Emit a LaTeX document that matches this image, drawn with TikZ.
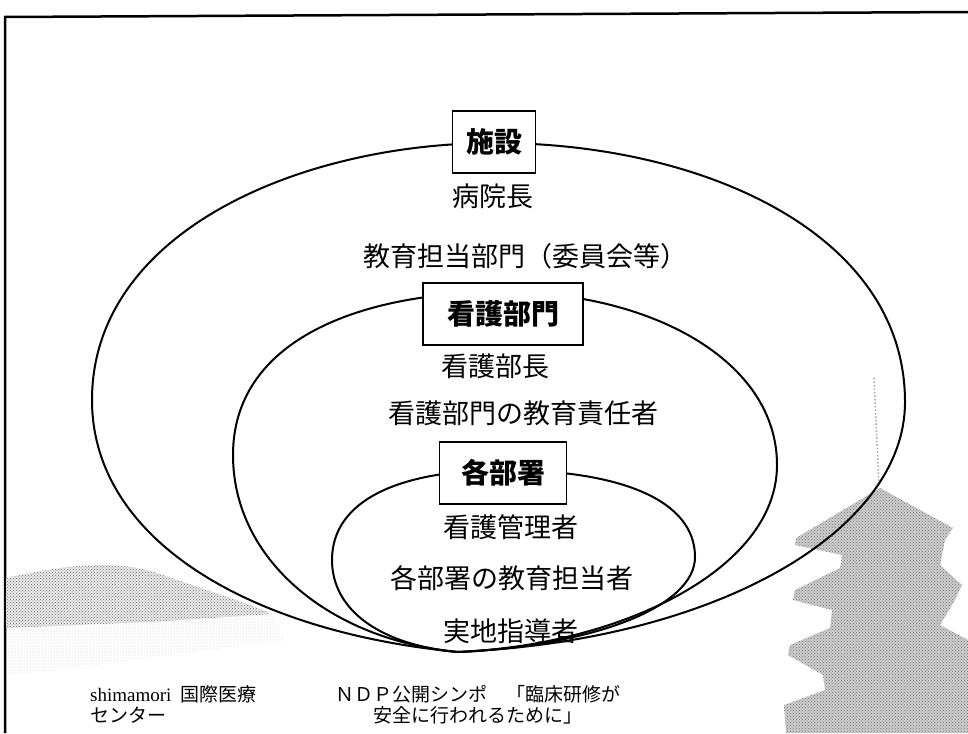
\documentclass[tikz,border=0pt]{standalone}
\usepackage{fontspec}
\setmainfont{Noto Sans CJK JP}
\newfontfamily\latinserif{Liberation Serif}
\usetikzlibrary{patterns}

\begin{document}
\begin{tikzpicture}[x=1pt, y=-1pt,
  every node/.style={inner sep=2pt},
  unit/.style={draw, line width=1.6pt, fill=white, minimum height=62pt,
               font=\fontsize{28}{30}\selectfont\bfseries},
  role/.style={font=\fontsize{27}{30}\selectfont},
  foot/.style={font=\fontsize{19}{21}\selectfont},
  orbit/.style={line width=2pt, line join=round},
  stipple/.style={fill=gray!40, postaction={pattern=crosshatch dots, pattern color=black!55}},
  haze/.style={pattern=dots, pattern color=gray!50}]
\useasboundingbox (0,0) rectangle (968,733);

% frame
\draw[line width=2.5pt] (5,733) -- (5,17) -- (968,12);

% hills, lower left
\fill[haze] (6,628) -- (150,622) -- (272,614) -- (285,640) -- (120,662) -- (6,676) -- cycle;
\fill[stipple, fill=gray!18] (6,578) .. controls (60,566) and (115,558) .. (160,574)
  .. controls (200,588) and (240,600) .. (272,614) -- (150,622) -- (6,628) -- cycle;

% pagoda, lower right
\draw[dotted, gray!70, line width=1.5pt] (874,378) -- (879,486);
\fill[stipple] (880,488) -- (953,528) -- (945,540) -- (940,565) -- (962,585)
  -- (955,600) -- (940,625) -- (968,640) -- (968,733) -- (786,733) -- (784,705)
  -- (825,690) -- (823,675) -- (788,655) -- (790,645) -- (830,628) -- (832,610)
  -- (793,600) -- (795,590) -- (840,568) -- (842,555) -- (795,545) -- (796,538)
  -- cycle;

% the three nested loops share one base point
\coordinate (base) at (458,652);
\draw[orbit] (base) .. controls (250,632) and (92,540) .. (92,400)
  .. controls (92,232) and (300,143) .. (495,143)
  .. controls (700,143) and (905,232) .. (905,402)
  .. controls (905,530) and (720,640) .. (base);
\draw[orbit] (base) .. controls (330,640) and (233,560) .. (233,455)
  .. controls (233,340) and (360,292) .. (503,292)
  .. controls (650,292) and (777,360) .. (777,465)
  .. controls (777,570) and (620,645) .. (base);
\draw[orbit] (base) .. controls (380,645) and (332,610) .. (332,560)
  .. controls (332,500) and (400,470) .. (503,470)
  .. controls (620,470) and (695,500) .. (695,557)
  .. controls (695,605) and (600,645) .. (base);

% units and roles
\node[unit, minimum width=83pt] (shisetsu) at (494,142) {施設};
\node[role] (byoincho) at (493,196) {病院長};
\node[role] (kyoikubumon) at (525,256) {教育担当部門（委員会等）};

\node[unit, minimum width=160pt] (kango) at (503,314) {看護部門};
\node[role] (buchou) at (495,366) {看護部長};
\node[role] (sekinin) at (523,413) {看護部門の教育責任者};

\node[unit, minimum width=127pt] (kakubusho) at (503,473) {各部署};
\node[role] (kanri) at (511,527) {看護管理者};
\node[role] (tanto) at (512,578) {各部署の教育担当者};
\node[role] (jicchi) at (511,631) {実地指導者};

% footer
\node[foot, anchor=north west, align=left] (credit) at (88,683)
  {{\latinserif shimamori}\hspace{0.5em}国際医療\\センター};
\node[foot, align=center] (symposium) at (478,705)
  {ＮＤＰ公開シンポ　「臨床研修が\\安全に行われるために」};
\end{tikzpicture}
\end{document}
